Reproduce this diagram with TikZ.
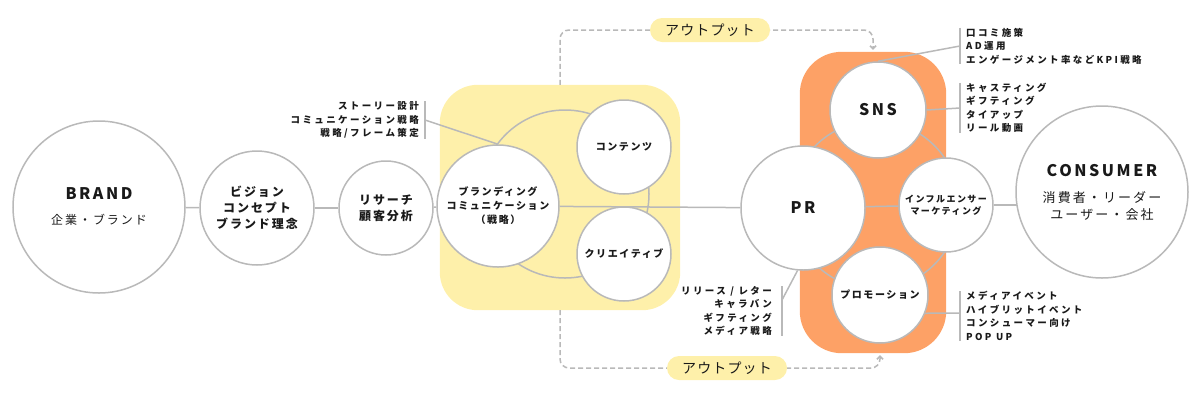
\documentclass[tikz,border=0pt]{standalone}
\usepackage{fontspec}
\setmainfont{Noto Sans CJK JP}
\newfontfamily\ringfont{Noto Sans CJK JP}[LetterSpace=16]
\newfontfamily\notefont{Noto Sans CJK JP}[LetterSpace=25]
\newfontfamily\tagfont{Noto Sans CJK JP}[LetterSpace=8]
\usetikzlibrary{shapes.misc, arrows.meta, backgrounds}
\newcommand{\unitsize}{1pt}
\definecolor{linegray}{RGB}{185,185,185}
\definecolor{paleyellow}{RGB}{254,240,170}
\definecolor{softorange}{RGB}{253,161,102}
\definecolor{inkblack}{RGB}{25,25,25}

\begin{document}
\begin{tikzpicture}
\useasboundingbox (0,0) rectangle (1200*\unitsize,-400*\unitsize);
\tikzstyle{every node}=[inner sep=0pt, align=center, text=inkblack]
\tikzstyle{ring}=[draw=linegray, line width=1.5pt, fill=white, circle]
\tikzstyle{wire}=[draw=linegray, line width=1.5pt]
\tikzstyle{outflow}=[draw=linegray, line width=1.5pt, dash pattern=on 5pt off 3pt,
                     rounded corners=9pt, -{Straight Barb[length=3pt,width=6pt]}]
\tikzstyle{tag}=[rounded rectangle, fill=paleyellow, minimum width=120*\unitsize,
                 minimum height=24*\unitsize, font=\tagfont\fontsize{14}{16}\selectfont]
\tikzstyle{note}=[font=\notefont\bfseries\fontsize{9.5}{13.5}\selectfont]

% group boxes (filled on the background layer)
\node[minimum width=240*\unitsize, minimum height=225*\unitsize]
  (yelbox) at (560*\unitsize,-197.5*\unitsize) {};
\node[minimum width=146*\unitsize, minimum height=301*\unitsize]
  (orgbox) at (873*\unitsize,-202.5*\unitsize) {};

% circles
\node[ring, minimum size=172*\unitsize, font=\ringfont\fontsize{12}{14}\selectfont]
  (brand) at (99*\unitsize,-207*\unitsize)
  {{\bfseries\fontsize{16}{20}\selectfont BRAND}\\[11pt]企業・ブランド};
\node[ring, minimum size=114*\unitsize, font=\ringfont\bfseries\fontsize{12}{16}\selectfont]
  (vision) at (257*\unitsize,-208*\unitsize) {ビジョン\\コンセプト\\ブランド理念};
\node[ring, minimum size=94*\unitsize, font=\ringfont\bfseries\fontsize{12}{16}\selectfont]
  (research) at (386*\unitsize,-208*\unitsize) {リサーチ\\顧客分析};
\node[ring, minimum size=122*\unitsize, font=\ringfont\bfseries\fontsize{10}{14}\selectfont]
  (branding) at (498*\unitsize,-206*\unitsize) {ブランディング\\コミュニケーション\\（戦略）};
\node[ring, minimum size=94*\unitsize, font=\ringfont\bfseries\fontsize{10}{14}\selectfont]
  (contents) at (624*\unitsize,-147*\unitsize) {コンテンツ};
\node[ring, minimum size=94*\unitsize, font=\ringfont\bfseries\fontsize{10}{14}\selectfont]
  (creative) at (624*\unitsize,-254*\unitsize) {クリエイティブ};
\node[ring, minimum size=124*\unitsize, font=\ringfont\bfseries\fontsize{16}{20}\selectfont]
  (pr) at (803*\unitsize,-208*\unitsize) {PR};
\node[ring, minimum size=96*\unitsize, font=\ringfont\bfseries\fontsize{16}{20}\selectfont]
  (sns) at (878*\unitsize,-110*\unitsize) {SNS};
\node[ring, minimum size=94*\unitsize, font=\ringfont\bfseries\fontsize{9}{12}\selectfont]
  (influencer) at (946*\unitsize,-205*\unitsize) {インフルエンサー\\マーケティング};
\node[ring, minimum size=96*\unitsize, font=\ringfont\bfseries\fontsize{10}{14}\selectfont]
  (promo) at (880*\unitsize,-295*\unitsize) {プロモーション};
\node[ring, minimum size=172*\unitsize, font=\ringfont\fontsize{13}{17}\selectfont]
  (consumer) at (1102*\unitsize,-192*\unitsize)
  {{\bfseries\fontsize{16}{20}\selectfont CONSUMER}\\[9pt]消費者・リーダー\\ユーザー・会社};

% output tags
\node[tag] (out1) at (710*\unitsize,-30*\unitsize) {アウトプット};
\node[tag] (out2) at (727*\unitsize,-368*\unitsize) {アウトプット};

% notes
\node[note, anchor=east, align=right] (brandnote) at (419*\unitsize,-120*\unitsize)
  {ストーリー設計\\コミュニケーション戦略\\戦略/フレーム策定};
\node[note, anchor=east, align=right] (prnote) at (772*\unitsize,-311*\unitsize)
  {リリース / レター\\キャラバン\\ギフティング\\メディア戦略};
\node[note, anchor=west, align=left] (snsnote) at (966*\unitsize,-46*\unitsize)
  {口コミ施策\\AD運用\\エンゲージメント率などKPI戦略};
\node[note, anchor=west, align=left] (castnote) at (966*\unitsize,-108*\unitsize)
  {キャスティング\\ギフティング\\タイアップ\\リール動画};
\node[note, anchor=west, align=left] (promonote) at (966*\unitsize,-316*\unitsize)
  {メディアイベント\\ハイブリットイベント\\コンシューマー向け\\POP UP};

\coordinate (brandtap) at ([xshift=6pt]brandnote.east);
\coordinate (prtap) at ([xshift=10pt, yshift=11pt]prnote.east);
\coordinate (snstap) at ([xshift=-6pt]snsnote.west);
\coordinate (casttap) at ([xshift=-6pt]castnote.west);
\coordinate (promotap) at ([xshift=-6pt, yshift=3pt]promonote.west);
\coordinate (ringA) at (565*\unitsize,-194*\unitsize);
\coordinate (ringB) at (875*\unitsize,-205*\unitsize);

\begin{scope}[on background layer]
\fill[paleyellow, rounded corners=38pt] (yelbox.south west) rectangle (yelbox.north east);
\fill[softorange, rounded corners=42pt] (orgbox.south west) rectangle (orgbox.north east);

\draw[wire] (ringA) circle[radius=84*\unitsize];
\draw[wire] (ringB) circle[radius=84*\unitsize];

\draw[wire] (brand) -- (vision);
\draw[wire] (vision) -- (research);
\draw[wire] (research) -- (branding);
\draw[wire] (branding) -- (pr);
\draw[wire] (pr) -- (influencer);
\draw[wire] (influencer.east) -- (influencer.east -| consumer.center);

\draw[wire] ([xshift=6pt]brandnote.north east) -- ([xshift=6pt]brandnote.south east);
\draw[wire] ([xshift=10pt]prnote.north east) -- ([xshift=10pt]prnote.south east);
\draw[wire] ([xshift=-6pt]snsnote.north west) -- ([xshift=-6pt]snsnote.south west);
\draw[wire] ([xshift=-6pt]castnote.north west) -- ([xshift=-6pt]castnote.south west);
\draw[wire] ([xshift=-6pt]promonote.north west) -- ([xshift=-6pt]promonote.south west);

\draw[wire] (brandtap) -- (branding.north);
\draw[wire] (pr.-95) -- (prtap);
\draw[wire] (sns.north) -- (snstap);
\draw[wire] (sns.east) -- (casttap);
\draw[wire] (promo.-22) -- (promotap);

\draw[outflow] (yelbox.north) |- (out1.center) -| ([yshift=2pt]orgbox.north);
\draw[outflow] (yelbox.south) |- (out2.center) -| ([xshift=7pt, yshift=-2pt]orgbox.south);
\end{scope}

\end{tikzpicture}
\end{document}
